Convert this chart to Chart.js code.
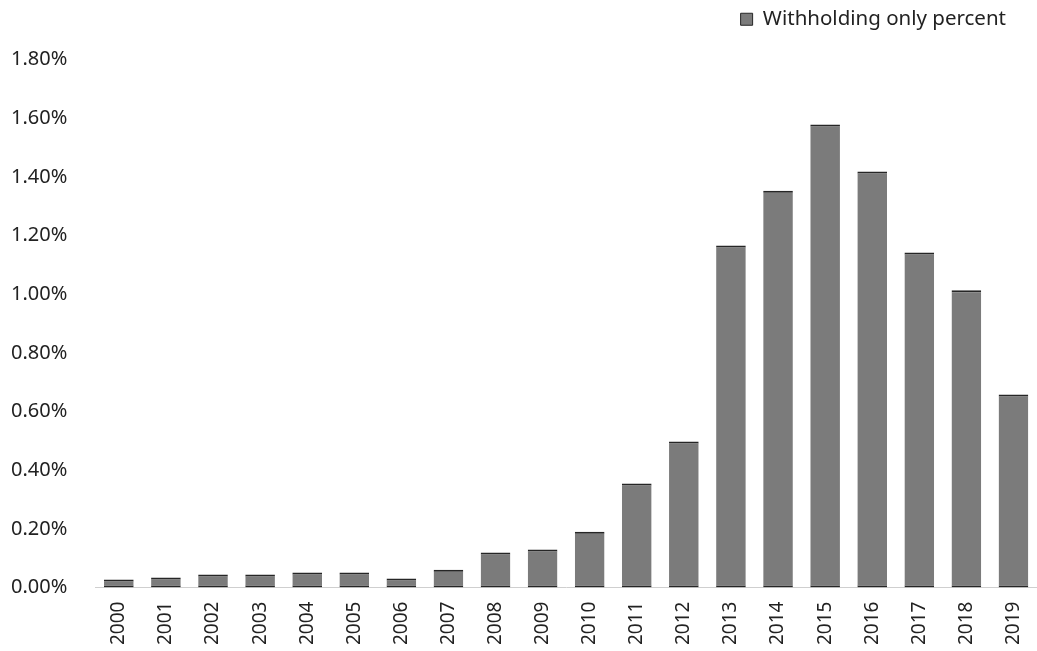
<!DOCTYPE html>
<html>
<head>
<meta charset="utf-8">
<script src="https://cdn.jsdelivr.net/npm/chart.js@4/dist/chart.umd.min.js"></script>
<style>
  html, body { margin: 0; padding: 0; background: #fff; }
  #wrap { width: 1037px; height: 651px; }
</style>
</head>
<body>
<div id="wrap"><canvas id="chart"></canvas></div>
<script>
// Values (percent of returns)
const years = ['2000', '2001', '2002', '2003', '2004', '2005', '2006', '2007', '2008', '2009',
               '2010', '2011', '2012', '2013', '2014', '2015', '2016', '2017', '2018', '2019'];
const withholdingOnly = [0.027, 0.034, 0.044, 0.044, 0.051, 0.051, 0.031, 0.061, 0.119, 0.130,
                         0.190, 0.355, 0.498, 1.166, 1.353, 1.578, 1.418, 1.142, 1.013, 0.658];
const yTicks = [0, 0.2, 0.4, 0.6, 0.8, 1.0, 1.2, 1.4, 1.6, 1.8];

const fontFamily = '"Noto Sans", "Open Sans", sans-serif';

// Give the legend some extra room underneath and pull it in from the right edge
const legendSpacing = {
    id: 'legendSpacing',
    beforeInit(chart) {
        const fit = chart.legend.fit;
        chart.legend.fit = function() {
            fit.bind(chart.legend)();
            this.height += 20;
        };
    },
    afterLayout(chart) {
        chart.legend.right -= 25;
    }
};

const ctx = document.getElementById('chart').getContext('2d');
new Chart(ctx, {
    type: 'bar',
    data: {
        labels: years,
        datasets: [{
            label: 'Withholding only percent',
            data: withholdingOnly,
            backgroundColor: '#7b7b7b',
            borderColor: '#262626',
            borderWidth: { top: 2, bottom: 2, left: 0, right: 0 },
            borderSkipped: false,
            categoryPercentage: 0.63,
            barPercentage: 1.0
        }]
    },
    options: {
        responsive: true,
        maintainAspectRatio: false,
        animation: false,
        layout: { padding: { left: -9, right: -3, top: 0, bottom: 0 } },
        plugins: {
            legend: {
                position: 'top',
                align: 'end',
                labels: {
                    color: '#222',
                    font: { family: fontFamily, size: 20.5 },
                    boxWidth: 12,
                    boxHeight: 12,
                    padding: 9
                }
            },
            tooltip: { enabled: false }
        },
        scales: {
            x: {
                grid: { display: false },
                border: { display: true, color: '#cfcfcf', dash: [2, 3] },
                afterFit: axis => { axis.paddingRight = 0; },
                ticks: {
                    color: '#222',
                    padding: 6,
                    font: { family: fontFamily, size: 19 },
                    maxRotation: 90,
                    minRotation: 90,
                    autoSkip: false
                }
            },
            y: {
                min: 0,
                max: 1.8,
                afterBuildTicks: axis => { axis.ticks = yTicks.map(v => ({ value: v })); },
                grid: { display: false },
                border: { display: false },
                ticks: {
                    color: '#222',
                    padding: 20,
                    font: { family: fontFamily, size: 20 },
                    callback: v => v.toFixed(2) + '%'
                }
            }
        }
    },
    plugins: [legendSpacing]
});
</script>
</body>
</html>
